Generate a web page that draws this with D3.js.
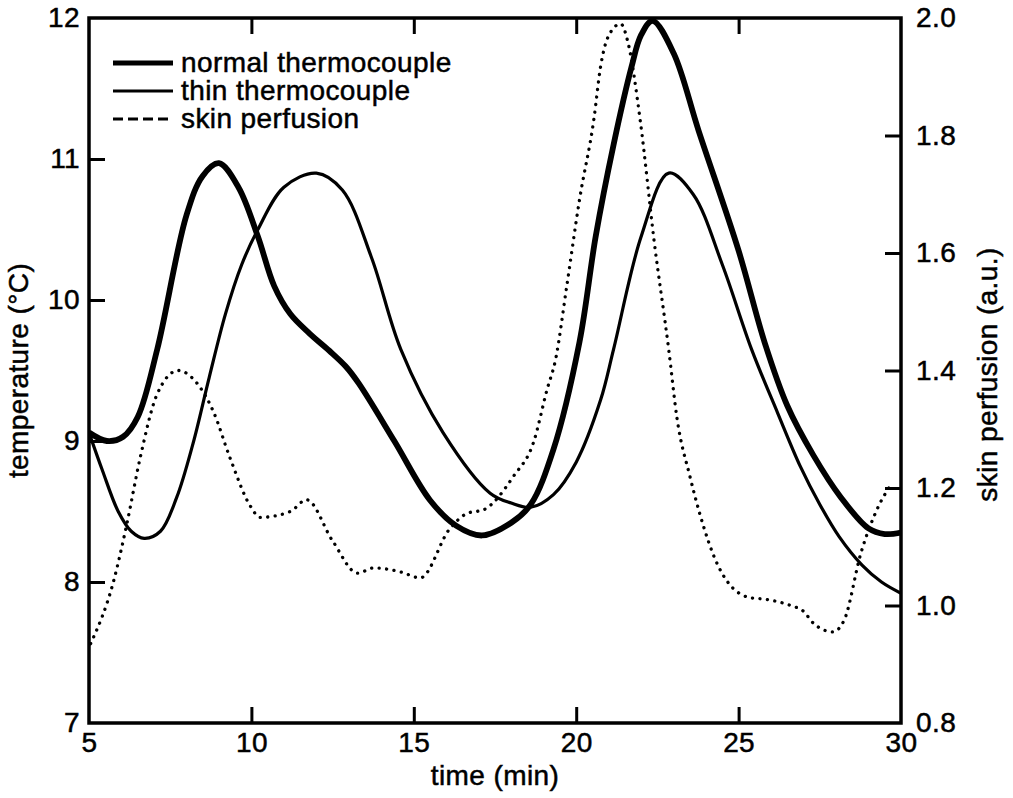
<!DOCTYPE html>
<html>
<head>
<meta charset="utf-8">
<script src="https://cdn.jsdelivr.net/npm/d3@7"></script>
<style>
  html, body { margin: 0; padding: 0; background: #fff; }
  svg { display: block; }
  text { font-family: "Liberation Sans", Arial, Helvetica, sans-serif; fill: #000; stroke: #000; stroke-width: 0.5px; letter-spacing: 0.4px; }
</style>
</head>
<body>
<script>
// ---- data ----
const normalTime = [5, 5.55, 6.05, 6.5, 7.1, 8.0, 8.5, 9.0, 9.6, 10.2, 10.7, 11.2, 11.8, 12.4, 12.9, 13.3, 14.4, 15.5, 16.3, 17.1, 18.0, 18.6, 19.3, 20.1, 20.6, 21.15, 21.7, 22.0, 22.35, 23.0, 23.77, 25.0, 25.8, 26.5, 27.3, 28.15, 29.0, 29.5, 30];
const normalTemp = [9.06, 9.0, 9.03, 9.17, 9.65, 10.6, 10.88, 10.97, 10.8, 10.45, 10.1, 9.9, 9.76, 9.64, 9.53, 9.41, 9.0, 8.58, 8.4, 8.33, 8.42, 8.55, 8.94, 9.7, 10.45, 11.1, 11.65, 11.88, 11.98, 11.75, 11.2, 10.35, 9.7, 9.25, 8.9, 8.6, 8.38, 8.34, 8.35];

const thinTime = [5, 5.4, 5.9, 6.3, 6.7, 7.2, 7.7, 8.2, 8.7, 9.2, 9.7, 10.2, 11.0, 12.0, 12.8, 13.7, 14.6, 15.9, 17.35, 18.0, 18.6, 19.3, 20.0, 20.75, 21.15, 22.0, 22.85, 23.6, 24.5, 25.4, 26.2, 26.9, 27.5, 28.1, 28.8, 29.4, 30];
const thinTemp = [9.06, 8.8, 8.5, 8.36, 8.31, 8.36, 8.6, 8.98, 9.45, 9.9, 10.25, 10.5, 10.8, 10.9, 10.78, 10.3, 9.65, 9.06, 8.63, 8.56, 8.53, 8.62, 8.85, 9.29, 9.65, 10.45, 10.9, 10.75, 10.25, 9.65, 9.2, 8.82, 8.55, 8.32, 8.12, 8.0, 7.92];

const perfTime = [5.05, 5.75, 6.17, 6.57, 7.1, 7.75, 8.3, 8.83, 9.35, 9.96, 10.27, 11.2, 11.7, 12.5, 13.27, 13.77, 14.6, 15.2, 16.1, 16.65, 17.15, 18.07, 18.7, 19.1, 19.37, 19.7, 20.1, 20.55, 20.75, 21.0, 21.37, 21.6, 21.97, 22.4, 22.85, 23.1, 23.5, 23.8, 24.35, 25.3, 25.9, 26.6, 27.0, 27.3, 27.9, 28.25, 28.77, 29.3, 29.75];
const perfValue = [0.935, 1.04, 1.14, 1.25, 1.36, 1.40, 1.38, 1.33, 1.25, 1.17, 1.15, 1.16, 1.18, 1.11, 1.055, 1.064, 1.057, 1.047, 1.13, 1.157, 1.163, 1.22, 1.28, 1.367, 1.42, 1.54, 1.69, 1.83, 1.917, 1.97, 1.99, 1.957, 1.826, 1.62, 1.435, 1.32, 1.22, 1.157, 1.07, 1.014, 1.01, 1.0, 0.99, 0.97, 0.955, 0.975, 1.09, 1.168, 1.21];

const xTicks = [5, 10, 15, 20, 25, 30];
const yLeftTicks = [7, 8, 9, 10, 11, 12];
const yRightTicks = [0.8, 1.0, 1.2, 1.4, 1.6, 1.8, 2.0];
const legendLabels = ["normal thermocouple", "thin thermocouple", "skin perfusion"];
const xTitle = "time (min)";
const yLeftTitle = "temperature (°C)";
const yRightTitle = "skin perfusion (a.u.)";

// ---- layout ----
const W = 1013, H = 798;
const L = 89, R = 901, T = 18, B = 723;
const FS = 28;

const svg = d3.select("body").append("svg").attr("width", W).attr("height", H);

const x = d3.scaleLinear().domain([5, 30]).range([L, R]);
const yT = d3.scaleLinear().domain([7, 12]).range([B, T]);
const yP = d3.scaleLinear().domain([0.8, 2.0]).range([B, T]);

// frame
svg.append("rect").attr("x", L).attr("y", T).attr("width", R - L).attr("height", B - T)
  .attr("fill", "none").attr("stroke", "#000").attr("stroke-width", 3.5);

const inner = xTicks.slice(1, -1);
const fmtInt = d3.format("d");
const fmt1 = d3.format(".1f");

function styleAxis(g) {
  g.select(".domain").remove();
  g.selectAll(".tick line").attr("stroke", "#000").attr("stroke-width", 3);
  g.selectAll(".tick text").attr("font-size", FS).attr("font-family", "Liberation Sans, Arial, sans-serif").attr("fill", "#000");
}

// bottom
const gB = svg.append("g").attr("transform", `translate(0,${B})`)
  .call(d3.axisBottom(x).tickValues(xTicks).tickSize(0).tickPadding(24).tickFormat(fmtInt));
styleAxis(gB);
gB.selectAll(".tick").each(function(d) {
  if (inner.includes(d)) d3.select(this).append("line").attr("y1", 0).attr("y2", -16).attr("stroke", "#000").attr("stroke-width", 3);
});
gB.selectAll(".tick text").attr("dy", "0.32em").attr("y", 20);

// top
const gTop = svg.append("g").attr("transform", `translate(0,${T})`)
  .call(d3.axisTop(x).tickValues(inner).tickSize(-16).tickFormat(""));
styleAxis(gTop);

// left
const gL = svg.append("g").attr("transform", `translate(${L},0)`)
  .call(d3.axisLeft(yT).tickValues(yLeftTicks).tickSize(0).tickPadding(9).tickFormat(fmtInt));
styleAxis(gL);
gL.selectAll(".tick").each(function(d) {
  if (d > 7 && d < 12) d3.select(this).append("line").attr("x1", 0).attr("x2", 16).attr("stroke", "#000").attr("stroke-width", 3);
});

// right
const gR = svg.append("g").attr("transform", `translate(${R},0)`)
  .call(d3.axisRight(yP).tickValues(yRightTicks).tickSize(0).tickPadding(15).tickFormat(fmt1));
styleAxis(gR);
gR.selectAll(".tick").each(function(d) {
  if (d > 0.85 && d < 1.95) d3.select(this).append("line").attr("x1", 0).attr("x2", -16).attr("stroke", "#000").attr("stroke-width", 3);
});

// titles
svg.append("text").attr("x", (L + R) / 2).attr("y", 785).attr("text-anchor", "middle")
  .attr("font-size", FS).text(xTitle);
svg.append("text").attr("transform", `translate(28,${(T + B) / 2}) rotate(-90)`).attr("text-anchor", "middle")
  .attr("font-size", FS).text(yLeftTitle);
svg.append("text").attr("transform", `translate(997,${(T + B) / 2 + 4}) rotate(-90)`).attr("text-anchor", "middle")
  .attr("font-size", FS).text(yRightTitle);

// curves
svg.append("clipPath").attr("id", "clip").append("rect")
  .attr("x", L).attr("y", T - 4).attr("width", R - L).attr("height", B - T + 4);

const plot = svg.append("g").attr("clip-path", "url(#clip)");

const lineT = d3.line().x(d => x(d[0])).y(d => yT(d[1])).curve(d3.curveCatmullRom.alpha(0.5));
const lineP = d3.line().x(d => x(d[0])).y(d => yP(d[1])).curve(d3.curveMonotoneX);

plot.append("path").datum(d3.zip(perfTime, perfValue)).attr("d", lineP)
  .attr("fill", "none").attr("stroke", "#000").attr("stroke-width", 3.3)
  .attr("stroke-linecap", "round").attr("stroke-dasharray", "0.1 7.4");

plot.append("path").datum(d3.zip(thinTime, thinTemp)).attr("d", lineT)
  .attr("fill", "none").attr("stroke", "#000").attr("stroke-width", 3.2);

plot.append("path").datum(d3.zip(normalTime, normalTemp)).attr("d", lineT)
  .attr("fill", "none").attr("stroke", "#000").attr("stroke-width", 5.8);

// legend
const legY = [63, 91, 119];
const legStyles = [
  { w: 5, dash: null },
  { w: 3, dash: null },
  { w: 3, dash: "10 5" }
];
const leg = svg.append("g");
legendLabels.forEach((lab, i) => {
  const l = leg.append("line").attr("x1", 113).attr("x2", 173).attr("y1", legY[i]).attr("y2", legY[i])
    .attr("stroke", "#000").attr("stroke-width", legStyles[i].w);
  if (legStyles[i].dash) l.attr("stroke-dasharray", legStyles[i].dash);
  leg.append("text").attr("x", 181).attr("y", legY[i] + 9).attr("font-size", FS).text(lab);
});
</script>
</body>
</html>
